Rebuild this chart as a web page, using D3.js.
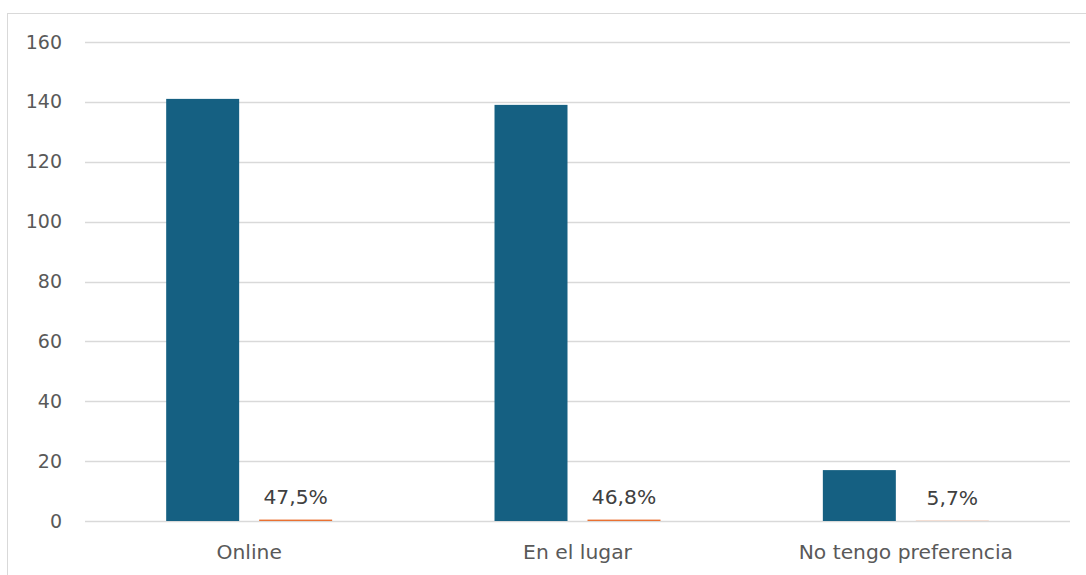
<!DOCTYPE html>
<html>
<head>
<meta charset="utf-8">
<script src="https://cdn.jsdelivr.net/npm/d3@7"></script>
<style>
  html, body { margin: 0; padding: 0; background: #fff; }
  svg { display: block; font-family: "DejaVu Sans", sans-serif; }
</style>
</head>
<body>
<svg id="chart" width="1086" height="575"></svg>
<script>
// Preferred modality: number of answers and share of the total
const categories = ["Online", "En el lugar", "No tengo preferencia"];
const counts = [141, 139, 17];
const shares = [0.475, 0.468, 0.057];
const yTicks = [0, 20, 40, 60, 80, 100, 120, 140, 160];
const seriesKeys = ["count", "share"];

const svg = d3.select("#chart");
const W = 1086, H = 575;
const plot = { left: 85, right: 1070, top: 42, bottom: 521 };
const FONT = "\"DejaVu Sans\", sans-serif";
const FS_TICK = 19;
const FS_LABEL = 20.3;

// Chart area frame
svg.append("rect")
  .attr("x", 7.5).attr("y", 13.5)
  .attr("width", W).attr("height", H)
  .attr("fill", "none").attr("stroke", "#d9d9d9").attr("stroke-width", 1);

const x0 = d3.scaleBand().domain(categories).range([plot.left, plot.right]).padding(0);
const x1 = d3.scaleBand().domain(seriesKeys).range([0, x0.bandwidth()])
  .paddingInner(20 / 93).paddingOuter(0.873);
const y = d3.scaleLinear().domain([0, 160]).range([plot.bottom, plot.top]);

// Gridlines
svg.append("g").selectAll("line").data(yTicks).join("line")
  .attr("x1", plot.left).attr("x2", plot.right)
  .attr("y1", d => Math.round(y(d)) + 0.5).attr("y2", d => Math.round(y(d)) + 0.5)
  .attr("stroke", "#d9d9d9").attr("stroke-width", 1.3);

// Y axis labels
const yAxis = d3.axisLeft(y).tickValues(yTicks).tickSize(0).tickPadding(0);
const gy = svg.append("g").attr("transform", "translate(62,0)").call(yAxis);
gy.select(".domain").remove();
gy.selectAll("text").attr("font-size", FS_TICK).attr("fill", "#595959")
  .attr("font-family", FONT);

// X axis labels
const xAxis = d3.axisBottom(x0).tickSize(0).tickPadding(0);
const gx = svg.append("g").attr("transform", `translate(0,${plot.bottom})`).call(xAxis);
gx.select(".domain").remove();
gx.selectAll("text").attr("font-size", FS_LABEL).attr("fill", "#595959")
  .attr("dy", null).attr("y", 38)
  .attr("font-family", FONT);

const rows = categories.map((c, i) => ({ cat: c, count: counts[i], share: shares[i] }));

// Count bars
svg.append("g").selectAll("rect").data(rows).join("rect")
  .attr("x", d => x0(d.cat) + x1("count"))
  .attr("width", x1.bandwidth())
  .attr("y", d => y(d.count))
  .attr("height", d => y(0) - y(d.count))
  .attr("fill", "#156082");

// Share bars (plotted on the same axis)
svg.append("g").selectAll("rect").data(rows).join("rect")
  .attr("x", d => x0(d.cat) + x1("share"))
  .attr("width", x1.bandwidth())
  .attr("y", d => y(d.share))
  .attr("height", d => y(0) - y(d.share))
  .attr("fill", "#e97132");

// Share labels
const fmt = v => (v * 100).toFixed(1).replace(".", ",") + "%";
svg.append("g").selectAll("text").data(rows).join("text")
  .attr("x", d => x0(d.cat) + x1("share") + x1.bandwidth() / 2)
  .attr("y", d => y(d.share) - 16)
  .attr("text-anchor", "middle")
  .attr("font-size", FS_LABEL)
  .attr("font-family", FONT)
  .attr("fill", "#404040")
  .text(d => fmt(d.share));
</script>
</body>
</html>
